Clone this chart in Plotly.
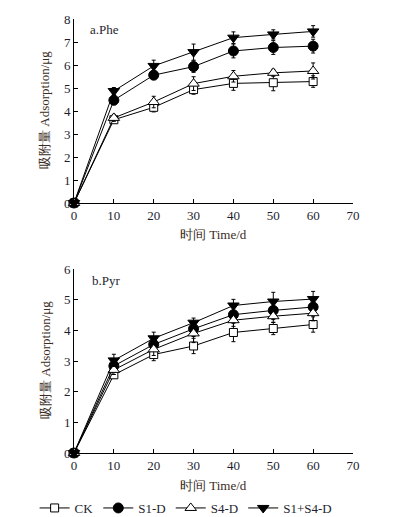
import plotly.graph_objects as go

days = [0, 10, 20, 30, 40, 50, 60]
series_names = ["CK", "S1-D", "S4-D", "S1+S4-D"]

# Panel a: Phe
phe_ck = [0, 3.62, 4.16, 4.93, 5.2, 5.23, 5.28]
phe_s1 = [0, 4.47, 5.56, 5.93, 6.61, 6.76, 6.82]
phe_s4 = [0, 3.7, 4.39, 5.19, 5.51, 5.66, 5.74]
phe_s1s4 = [0, 4.87, 5.96, 6.56, 7.19, 7.33, 7.46]
phe_ck_err = [0, 0.1, 0.2, 0.2, 0.3, 0.35, 0.25]
phe_s1_err = [0, 0.2, 0.2, 0.25, 0.3, 0.3, 0.3]
phe_s4_err = [0, 0.15, 0.25, 0.3, 0.25, 0.15, 0.35]
phe_s1s4_err = [0, 0.15, 0.25, 0.35, 0.25, 0.2, 0.25]

# Panel b: Pyr
pyr_ck = [0, 2.55, 3.21, 3.49, 3.93, 4.06, 4.19]
pyr_s1 = [0, 2.84, 3.54, 4.05, 4.51, 4.65, 4.76]
pyr_s4 = [0, 2.71, 3.38, 3.9, 4.33, 4.46, 4.56]
pyr_s1s4 = [0, 3.02, 3.74, 4.25, 4.81, 4.94, 5.02]
pyr_ck_err = [0, 0.1, 0.2, 0.25, 0.3, 0.2, 0.25]
pyr_s1_err = [0, 0.2, 0.2, 0.25, 0.25, 0.3, 0.25]
pyr_s4_err = [0, 0.15, 0.2, 0.3, 0.2, 0.2, 0.25]
pyr_s1s4_err = [0, 0.2, 0.2, 0.15, 0.2, 0.3, 0.25]

x_ticks = [0, 10, 20, 30, 40, 50, 60, 70]

styles = {
    "CK": dict(symbol="square", color="white", size=8),
    "S1-D": dict(symbol="circle", color="black", size=10),
    "S4-D": dict(symbol="triangle-up", color="white", size=10),
    "S1+S4-D": dict(symbol="triangle-down", color="black", size=10),
}

FONT = "Liberation Serif, Times New Roman, serif"
TXT = "#1e1e2e"
TITLE = "#3a2c24"

fig = go.Figure()

panels = [
    ("x", "y", [phe_ck, phe_s1, phe_s4, phe_s1s4],
     [phe_ck_err, phe_s1_err, phe_s4_err, phe_s1s4_err]),
    ("x2", "y2", [pyr_ck, pyr_s1, pyr_s4, pyr_s1s4],
     [pyr_ck_err, pyr_s1_err, pyr_s4_err, pyr_s1s4_err]),
]

for xa, ya, vals, errs in panels:
    show = xa == "x2"
    for name, v, e in zip(series_names, vals, errs):
        st = styles[name]
        fig.add_trace(go.Scatter(
            x=days, y=v, name=name, mode="lines+markers",
            xaxis=xa, yaxis=ya, showlegend=show, cliponaxis=False,
            line=dict(color="black", width=1),
            marker=dict(symbol=st["symbol"], size=st["size"], color=st["color"],
                        line=dict(color="black", width=1)),
            error_y=dict(type="data", array=e, visible=True, color="black",
                         thickness=1, width=2),
        ))

axis_common = dict(showline=True, linecolor="black", linewidth=1, ticks="inside",
                   ticklen=4, tickcolor="black", showgrid=False, zeroline=False,
                   tickfont=dict(family=FONT, size=13, color=TXT))

xdom = [74 / 396, 353 / 396]
fig.update_layout(
    width=396, height=517,
    margin=dict(l=0, r=0, t=0, b=0, autoexpand=False),
    paper_bgcolor="white", plot_bgcolor="white",
    font=dict(family=FONT, size=13, color=TXT),
    xaxis=dict(domain=xdom, range=[0, 70], tickvals=x_ticks, anchor="y", **axis_common),
    yaxis=dict(domain=[1 - 203 / 517, 1 - 19 / 517], range=[0, 8], dtick=1, anchor="x", **axis_common),
    xaxis2=dict(domain=xdom, range=[0, 70], tickvals=x_ticks, anchor="y2", **axis_common),
    yaxis2=dict(domain=[1 - 453 / 517, 1 - 269 / 517], range=[0, 6], dtick=1, anchor="x2", **axis_common),
    legend=dict(orientation="h", x=0.47, xanchor="center", y=1 - 508 / 517, yanchor="middle",
                font=dict(family=FONT, size=13, color=TXT), itemwidth=30,
                tracegroupgap=0, bgcolor="rgba(0,0,0,0)"),
)

ann = []
for yc, txt in [(110, "吸附量 Adsorption/μg"), (360, "吸附量 Adsorption/μg")]:
    ann.append(dict(x=45 / 396, y=1 - yc / 517, xref="paper", yref="paper", text=txt,
                    textangle=-90, showarrow=False, xanchor="center", yanchor="middle",
                    font=dict(family=FONT, size=13, color=TITLE)))
for yc in [234, 485]:
    ann.append(dict(x=213 / 396, y=1 - yc / 517, xref="paper", yref="paper", text="时间 Time/d",
                    showarrow=False, xanchor="center", yanchor="middle",
                    font=dict(family=FONT, size=13, color=TITLE)))
ann.append(dict(x=88 / 396, y=1 - 30 / 517, xref="paper", yref="paper", text="a.Phe",
                showarrow=False, xanchor="left", yanchor="middle",
                font=dict(family=FONT, size=13, color=TXT)))
ann.append(dict(x=90 / 396, y=1 - 280 / 517, xref="paper", yref="paper", text="b.Pyr",
                showarrow=False, xanchor="left", yanchor="middle",
                font=dict(family=FONT, size=13, color=TXT)))
fig.update_layout(annotations=ann)

fig.write_html("out.html", config={"displayModeBar": False},
               post_script="document.body.style.margin='0px';document.body.style.overflow='hidden';")
